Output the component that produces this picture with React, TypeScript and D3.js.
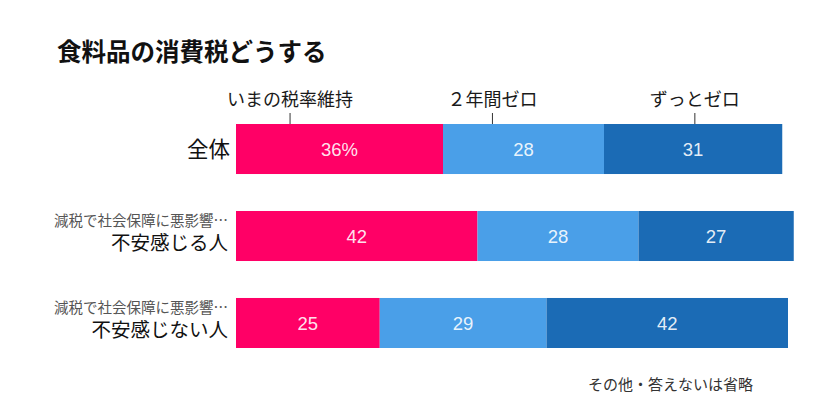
import React from "react";
import * as d3 from "d3";

const title = "食料品の消費税どうする";
const seriesNames = ["いまの税率維持", "２年間ゼロ", "ずっとゼロ"];
const seriesColors = ["#FF0066", "#4A9FE8", "#1B6BB5"];
const legendAnchors = [9.4, 44.6, 79.8];
const rowSubLabels = ["", "減税で社会保障に悪影響…", "減税で社会保障に悪影響…"];
const rowLabels = ["全体", "不安感じる人", "不安感じない人"];
const keepRate = [36, 42, 25];
const zeroTwoYears = [28, 28, 29];
const zeroForever = [31, 27, 42];
const note = "その他・答えないは省略";

const W = 827;
const H = 396;
const JP = "'Noto Sans CJK JP', 'Noto Sans', sans-serif";
const NUM = "'Liberation Sans', Arial, sans-serif";

export default function App() {
  const x = d3.scaleLinear().domain([0, 100]).range([236, 811]);
  const y = d3
    .scaleBand<string>()
    .domain(rowLabels)
    .range([124, 348])
    .paddingInner(0.425)
    .paddingOuter(0);

  const table = rowLabels.map((r, i) => ({
    row: r,
    sub: rowSubLabels[i],
    values: [keepRate[i], zeroTwoYears[i], zeroForever[i]],
  }));
  const stack = d3
    .stack<any>()
    .keys(["0", "1", "2"])
    .value((d: any, k: string) => d.values[+k]);
  const series = stack(table);
  const bw = y.bandwidth();

  return (
    <svg
      width={W}
      height={H}
      style={{ position: "absolute", left: 0, top: 0, background: "#fff" }}
    >
      <rect width={W} height={H} fill="#fff" />
      <text x={57} y={61} fontFamily={JP} fontWeight={700} fontSize={24.5} fill="#111">
        {title}
      </text>

      {seriesNames.map((s, i) => (
        <g key={s}>
          <text
            x={x(legendAnchors[i])}
            y={106}
            textAnchor="middle"
            fontFamily={JP}
            fontSize={18}
            fill="#1a1a1a"
          >
            {s}
          </text>
          <line
            x1={x(legendAnchors[i])}
            x2={x(legendAnchors[i])}
            y1={113}
            y2={y(rowLabels[0])!}
            stroke="#333"
            strokeWidth={1}
          />
        </g>
      ))}

      {series.map((s, si) =>
        s.map((d, ri) => {
          const row = table[ri];
          const y0 = y(row.row)!;
          const x0 = x(d[0]);
          const x1 = x(d[1]);
          const label = ri === 0 && si === 0 ? `${row.values[si]}%` : `${row.values[si]}`;
          return (
            <g key={`${si}-${ri}`}>
              <rect x={x0} y={y0} width={x1 - x0} height={bw} fill={seriesColors[si]} />
              <text
                x={(x0 + x1) / 2}
                y={y0 + bw / 2}
                dy="0.36em"
                textAnchor="middle"
                fontFamily={NUM}
                fontSize={18.5}
                fill="#fff"
                fillOpacity={0.9}
              >
                {label}
              </text>
            </g>
          );
        })
      )}

      {table.map((row) => {
        const cy = y(row.row)! + bw / 2;
        if (!row.sub) {
          return (
            <text
              key={row.row}
              x={230}
              y={cy}
              dy="0.38em"
              textAnchor="end"
              fontFamily={JP}
              fontSize={21.5}
              fill="#111"
            >
              {row.row}
            </text>
          );
        }
        return (
          <g key={row.row}>
            <text
              x={228}
              y={cy - 16}
              dy="0.38em"
              textAnchor="end"
              fontFamily={JP}
              fontSize={14.5}
              fill="#555"
            >
              {row.sub}
            </text>
            <text
              x={228}
              y={cy + 7}
              dy="0.38em"
              textAnchor="end"
              fontFamily={JP}
              fontSize={19.5}
              fill="#111"
            >
              {row.row}
            </text>
          </g>
        );
      })}

      <text x={588} y={384} dy="0.38em" fontFamily={JP} fontSize={15} fill="#333">
        {note}
      </text>
    </svg>
  );
}
